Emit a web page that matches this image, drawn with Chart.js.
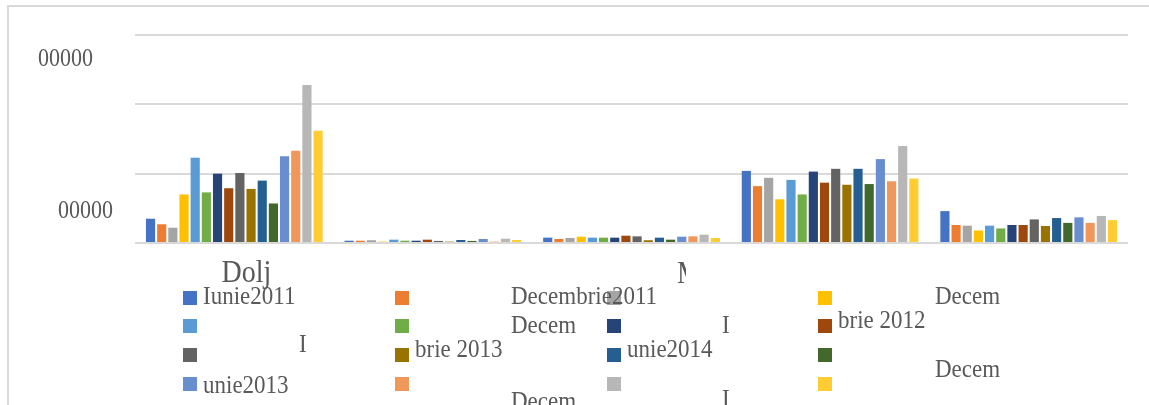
<!DOCTYPE html>
<html>
<head>
<meta charset="utf-8">
<script src="https://cdn.jsdelivr.net/npm/chart.js@4"></script>
<style>
    html, body { margin: 0; padding: 0; background: #fff; overflow: hidden; }
    #wrap { position: relative; width: 1149px; height: 405px; overflow: hidden; }
    #frame { position: absolute; left: 7px; top: 5px; width: 1300px; height: 600px; border: 2px solid #d9d9d9; }
    canvas { position: absolute; left: 0; top: 0; }
</style>
</head>
<body>
<div id="wrap">
    <div id="frame"></div>
    <canvas id="chart" width="1149" height="405"></canvas>
</div>
<script>
// categories (only the visible fragments of the county names)
const categories = ['Dolj', '', 'M', '', ''];

const seriesNames = [
    'Iunie 2011', 'Decembrie 2011', 'Iunie 2012', 'Decembrie 2012',
    'Iunie 2013', 'Decembrie 2013', 'Iunie 2014', 'Decembrie 2014',
    'Iunie 2015', 'Decembrie 2015', 'Iunie 2016', 'Decembrie 2016',
    'Iunie 2017', 'Decembrie 2017', 'Iunie 2018', 'Decembrie 2018'
];

const seriesColors = [
    '#4472C4', '#ED7D31', '#A5A5A5', '#FFC000',
    '#5B9BD5', '#70AD47', '#264478', '#9E480E',
    '#636363', '#997300', '#255E91', '#43682B',
    '#698ED0', '#F1975A', '#B7B7B7', '#FFCD33'
];

// values per category, one entry per series
const dolj = [35000, 27000, 22000, 70000, 123000, 73000, 100000, 79000, 101000, 78000, 90000, 57000, 125000, 133000, 228000, 162000];
const cat2 = [3300, 3300, 4000, 2000, 4800, 3300, 3300, 4800, 3000, 2000, 4300, 3000, 5800, 2000, 6200, 4300];
const cat3 = [7700, 5800, 7200, 9100, 7700, 7700, 7700, 10500, 9600, 4000, 7700, 4800, 9100, 9600, 12000, 7200];
const cat4 = [104000, 82000, 94000, 63000, 91000, 70000, 103000, 87000, 107000, 84000, 107000, 85000, 121000, 89000, 140000, 93000];
const cat5 = [46000, 26000, 25000, 18000, 25000, 21000, 26000, 26000, 34000, 24500, 36000, 29000, 37000, 29000, 39000, 33000];

const byCategory = [dolj, cat2, cat3, cat4, cat5];

// y tick labels as they appear (garbled) and where they sit
const yTickLabels = ['00000', '00000'];
const yTickValues = [267000, 47000];

const textColor = '#595959';
const serif = '"Liberation Serif", "DejaVu Serif", serif';

const datasets = seriesNames.map((name, i) => ({
    label: name,
    data: byCategory.map(c => c[i]),
    backgroundColor: seriesColors[i],
    borderWidth: 0,
    categoryPercentage: 0.9,
    barPercentage: 0.82
}));

// text in the reference is a bit taller than normal
function tallText(ctx, t, x, y) {
    ctx.save();
    ctx.translate(x, y);
    ctx.scale(1, 1.12);
    ctx.fillText(t, 0, 0);
    ctx.restore();
}

// legend + stray text fragments, drawn like the reference shows them
const overlayPlugin = {
    id: 'overlay',
    afterDraw(chart) {
        const ctx = chart.ctx;
        const y = chart.scales.y;
        const x = chart.scales.x;
        ctx.save();
        ctx.fillStyle = textColor;

        // y labels
        ctx.font = '22px ' + serif;
        ctx.textAlign = 'right';
        ctx.textBaseline = 'alphabetic';
        const yRight = [93, 113];
        yTickLabels.forEach((t, i) => tallText(ctx, t, yRight[i], y.getPixelForValue(yTickValues[i]) + 8));

        // category labels
        ctx.font = '28px ' + serif;
        ctx.textAlign = 'center';
        tallText(ctx, categories[0], x.getPixelForValue(0) + 12, 282);
        ctx.save();
        ctx.beginPath();
        ctx.rect(670, 255, 16, 40);
        ctx.clip();
        ctx.textAlign = 'left';
        tallText(ctx, categories[2], 677, 283);
        ctx.restore();

        // legend swatches
        const colX = [183, 395, 607, 818];
        const rowY = [291, 319, 348, 377];
        chart.data.datasets.forEach((ds, i) => {
            ctx.fillStyle = ds.backgroundColor;
            ctx.fillRect(colX[i % 4], rowY[Math.floor(i / 4)], 14, 14);
        });

        // legend text fragments
        const frags = [
            ['Iunie2011', 203, 304],
            ['Decembrie2011', 511, 304],
            ['Decem', 935, 304],
            ['Decem', 511, 333],
            ['I', 722, 333],
            ['brie 2012', 838, 328],
            ['I', 299, 352],
            ['brie 2013', 415, 357],
            ['unie2014', 627, 357],
            ['Decem', 935, 377],
            ['unie2013', 203, 393],
            ['Decem', 511, 409],
            ['I', 722, 407]
        ];
        ctx.fillStyle = textColor;
        ctx.font = '23px ' + serif;
        ctx.textAlign = 'left';
        frags.forEach(f => tallText(ctx, f[0], f[1], f[2]));
        ctx.restore();
    }
};

new Chart(document.getElementById('chart'), {
    type: 'bar',
    data: { labels: categories, datasets },
    options: {
        responsive: false,
        animation: false,
        layout: { padding: { left: 135, right: 21, top: 35, bottom: 162 } },
        plugins: { legend: { display: false }, tooltip: { enabled: false } },
        scales: {
            x: {
                ticks: { display: false },
                grid: { display: false },
                border: { display: false },
                afterFit: s => { s.height = 0; }
            },
            y: {
                min: 0,
                max: 300000,
                ticks: { display: false, stepSize: 100000 },
                grid: { color: '#d9d9d9', lineWidth: 2, drawTicks: false },
                border: { display: false },
                afterFit: s => { s.width = 0; }
            }
        }
    },
    plugins: [overlayPlugin]
});
</script>
</body>
</html>
